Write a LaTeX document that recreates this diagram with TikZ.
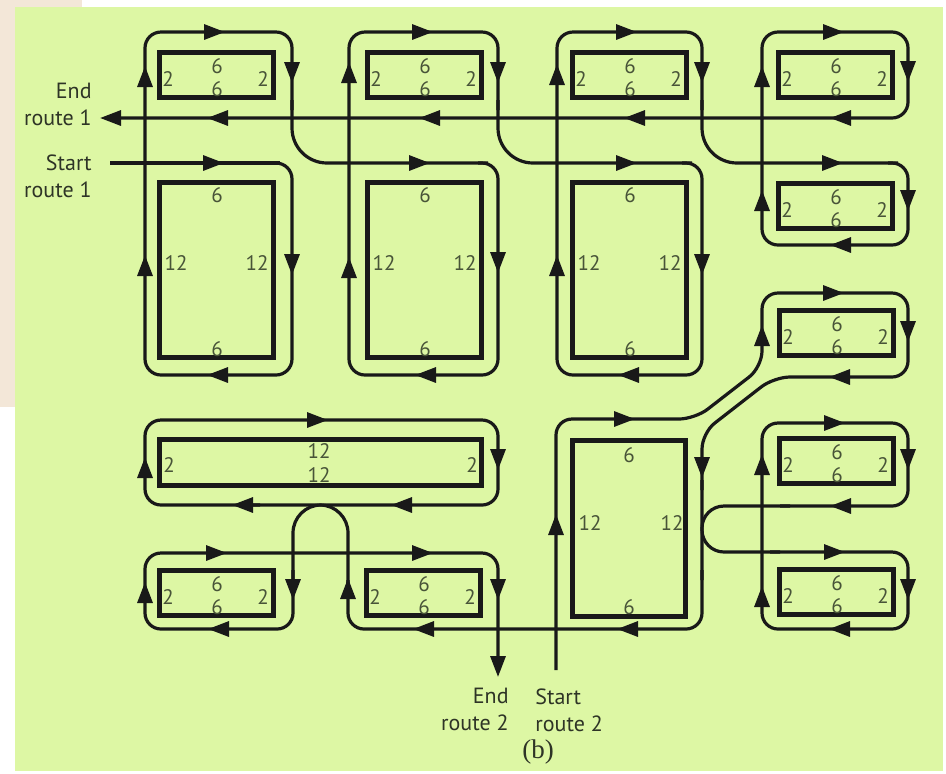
\documentclass[tikz,border=0pt]{standalone}
\usepackage{fontspec}
\setsansfont{PT Sans}
\newfontfamily\capfont{Liberation Serif}
\usetikzlibrary{arrows.meta}

\definecolor{mapgreen}{RGB}{221,247,164}
\definecolor{pagebeige}{RGB}{243,231,216}
\definecolor{numgray}{RGB}{72,84,56}
\definecolor{textgray}{RGB}{46,52,38}

\begin{document}
\begin{tikzpicture}[
    x=0.5pt, y=-0.5pt,
    blk/.style={line width=2.6pt, draw=black!90},
    route/.style={line width=1.6pt, draw=black!90, rounded corners=8pt},
    wideturn/.style={route, rounded corners=17.5pt},
    forkturn/.style={route, rounded corners=11pt},
    archturn/.style={route, rounded corners=14pt},
    arrowhd/.style={line width=1.6pt, draw=black!90, -{Triangle[length=10.5pt,width=7.5pt]}},
    num/.style={text=numgray, inner sep=0pt, font=\sffamily\fontsize{10.5}{12}\selectfont},
    lbl/.style={text=textgray, inner sep=0pt, font=\sffamily\fontsize{11}{13.5}\selectfont}
  ]

  %% ---- Page and map background ----
  \useasboundingbox (0,0) rectangle (946,773);
  \fill[pagebeige] (0,0) rectangle (82,407);
  \fill[mapgreen] (15,7) rectangle (943,771);

  %% ---- Blocks ----
  % small blocks: 6 on the long sides, 2 on the short sides
  \foreach \bx/\by [count=\i] in {157/50, 365/50, 570/50, 776/50, 776/181,
      777/308, 777/436, 157/568, 364/568, 777/567} {
    \draw[blk] (\bx+2.5,\by+2.5) rectangle (\bx+116.5,\by+47.5);
    \node[num] (s\i-t) at (\bx+60,\by+16) {6};
    \node[num] (s\i-b) at (\bx+60,\by+39) {6};
    \node[num] (s\i-l) at (\bx+11,\by+29) {2};
    \node[num] (s\i-r) at (\bx+106,\by+29) {2};
  }

  % tall blocks: 6 on the short sides, 12 on the long sides
  \foreach \bx [count=\i] in {157, 365, 570} {
    \draw[blk] (\bx+2.5,182.5) rectangle (\bx+116.5,357.5);
    \node[num] (t\i-t) at (\bx+60,195) {6};
    \node[num] (t\i-b) at (\bx+60,349) {6};
    \node[num] (t\i-l) at (\bx+19,263) {12};
    \node[num] (t\i-r) at (\bx+100,263) {12};
  }

  % wide block 12 x 2
  \draw[blk] (159.5,439.5) rectangle (481.5,485.5);
  \node[num] (w-t) at (319,451) {12};
  \node[num] (w-b) at (319,475) {12};
  \node[num] (w-l) at (169,465) {2};
  \node[num] (w-r) at (472,465) {2};

  % big block 6 x 12
  \draw[blk] (572.5,440.5) rectangle (685.5,616.5);
  \node[num] (g-t) at (629,455) {6};
  \node[num] (g-b) at (629,607) {6};
  \node[num] (g-l) at (590,523) {12};
  \node[num] (g-r) at (672,523) {12};

  %% ---- Route 1 ----
  \draw[route] (110,163) -- (280,163);
  \foreach \xl/\xr/\xn in {145/292/498, 349/498/702, 557/702/908} {
    \draw[route] (\xr-20,163) -- (\xr,163) -- (\xr,375) -- (\xl,375) -- (\xl,32)
      -- (\xr,32) -- (\xr,110);
    \draw[wideturn] (\xr,100) -- (\xr,163) -- (\xn-10,163);
  }
  \draw[route, -{Triangle[length=10.5pt,width=7.5pt]}] (888,163) -- (908,163)
    -- (908,245) -- (762,245) -- (762,32) -- (908,32) -- (908,118) -- (100,118);

  %% ---- Route 2 ----
  \draw[route] (556,670) -- (556,419) -- (695,419) -- (762,367) -- (762,293)
    -- (908,293) -- (908,377) -- (774,377) -- (702,433) -- (702,490);
  \draw[forkturn] (702,480) -- (702,552) -- (780,552);
  \draw[route] (770,552) -- (908,552) -- (908,629) -- (762,629) -- (762,423)
    -- (908,423) -- (908,506) -- (780,506);
  \draw[forkturn] (790,506) -- (702,506) -- (702,580);
  \draw[route] (702,570) -- (702,629) -- (348,629) -- (348,580);
  \draw[archturn] (348,590) -- (348,505) -- (250,505);
  \draw[route] (260,505) -- (145,505) -- (145,420) -- (498,420) -- (498,505)
    -- (400,505);
  \draw[archturn] (410,505) -- (293,505) -- (293,580);
  \draw[route, -{Triangle[length=10.5pt,width=7.5pt]}] (293,570) -- (293,629)
    -- (145,629) -- (145,553) -- (498,553) -- (498,677);

  %% ---- Arrow heads along the routes ----
  % to the right
  \foreach \x/\y in {215/32, 423/32, 627/32, 834/32, 214/163, 420/163, 627/163,
      833/163, 834/293, 625/419, 318/420, 835/423, 835/552, 217/553, 423/553}
    \draw[arrowhd] (\x-10,\y) -- (\x+10,\y);
  % to the left
  \foreach \x/\y in {217/375, 425/375, 628/375, 840/245, 217/118, 429/118,
      634/118, 840/118, 839/377, 840/506, 401/505, 242/505, 839/629, 627/629,
      423/629, 218/629}
    \draw[arrowhd] (\x+10,\y) -- (\x-10,\y);
  % downwards
  \foreach \x/\y in {292/73, 498/73, 702/73, 908/72, 292/265, 498/263, 702/265,
      908/201, 908/332, 702/468, 908/460, 498/460, 908/590, 293/590, 498/590}
    \draw[arrowhd] (\x,\y-10) -- (\x,\y+10);
  % upwards
  \foreach \x/\y in {145/76, 349/72, 557/74, 762/76, 145/265, 349/267, 557/265,
      762/200, 762/335, 556/524, 762/464, 145/467, 762/596, 348/588, 145/592}
    \draw[arrowhd] (\x,\y+10) -- (\x,\y-10);

  %% ---- Start and end labels ----
  \node[lbl, align=right, anchor=east] (end1) at (92,104) {End\\route 1};
  \node[lbl, align=right, anchor=east] (start1) at (92,176) {Start\\route 1};
  \node[lbl, align=right, anchor=north east] (end2) at (509,688) {End\\route 2};
  \node[lbl, align=left, anchor=north west] (start2) at (535,688) {Start\\route 2};
  \node[text=textgray, inner sep=0pt, font=\capfont\fontsize{13.5}{15}\selectfont]
    (cap) at (538,752) {(b)};

\end{tikzpicture}
\end{document}
